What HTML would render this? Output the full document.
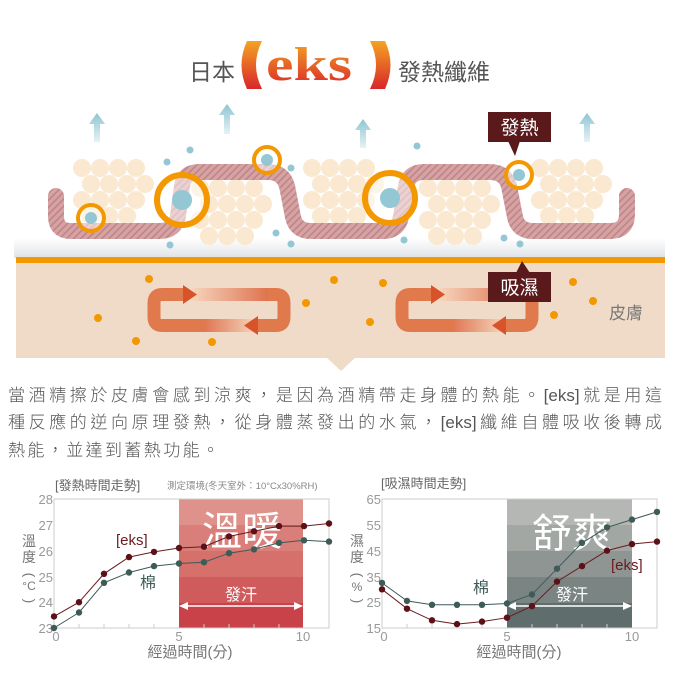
<!DOCTYPE html>
<html><head><meta charset="utf-8"><style>
html,body{margin:0;padding:0;background:#fff;}
body{width:680px;height:680px;overflow:hidden;position:relative;font-family:"Liberation Sans","Noto Sans CJK TC",sans-serif;}
.p{position:absolute;left:8px;width:654px;font-size:17px;color:#555;text-align:justify;text-align-last:justify;white-space:nowrap;font-weight:300;}
</style></head><body>
<svg width="680" height="680" viewBox="0 0 680 680" xmlns="http://www.w3.org/2000/svg" style="position:absolute;left:0;top:0;font-family:'Liberation Sans','Noto Sans CJK TC',sans-serif">
<defs>
<linearGradient id="tg2" gradientUnits="userSpaceOnUse" x1="0" y1="40" x2="0" y2="90"><stop offset="0" stop-color="#f5a623"/><stop offset="1" stop-color="#d8232a"/></linearGradient>
<linearGradient id="ag" x1="0" y1="0" x2="0" y2="1"><stop offset="0" stop-color="#8ec5d3"/><stop offset="1" stop-color="#e6f2f5"/></linearGradient>
<linearGradient id="fog" x1="0" y1="0" x2="0" y2="1"><stop offset="0" stop-color="#fff"/><stop offset="1" stop-color="#dfe3e6"/></linearGradient>
<pattern id="hat" width="5" height="5" patternUnits="userSpaceOnUse" patternTransform="rotate(45)"><rect width="5" height="5" fill="#d6a3a5"/><rect width="1.6" height="5" fill="#c08486"/></pattern>
<linearGradient id="lr" x1="0" y1="0" x2="1" y2="0"><stop offset="0" stop-color="#d9532a"/><stop offset="1" stop-color="#f7d2b8"/></linearGradient>
<linearGradient id="rl" x1="1" y1="0" x2="0" y2="0"><stop offset="0" stop-color="#d9532a"/><stop offset="1" stop-color="#f7d2b8"/></linearGradient>
<g id="b1">
<circle cx="0" cy="0" r="9"/><circle cx="18" cy="0" r="9"/><circle cx="36" cy="0" r="9"/><circle cx="54" cy="0" r="9"/>
<circle cx="9" cy="16" r="9"/><circle cx="27" cy="16" r="9"/><circle cx="45" cy="16" r="9"/><circle cx="63" cy="16" r="9"/>
<circle cx="0" cy="32" r="9"/><circle cx="18" cy="32" r="9"/><circle cx="36" cy="32" r="9"/><circle cx="54" cy="32" r="9"/>
<circle cx="9" cy="48" r="9"/><circle cx="27" cy="48" r="9"/><circle cx="45" cy="48" r="9"/>
</g>
</defs>

<text x="189" y="80" font-size="23" fill="#555">日本</text>
<path d="M262 41 H247 Q236 65 247 89 H262 Q250 65 262 41Z" fill="url(#tg2)"/>
<text x="266" y="80" font-size="48" textLength="86" lengthAdjust="spacingAndGlyphs" fill="url(#tg2)" font-weight="bold" font-family="Liberation Serif,serif">eks</text>
<path d="M370 41 H385 Q396 65 385 89 H370 Q382 65 370 41Z" fill="url(#tg2)"/>
<text x="398" y="80" font-size="23" fill="#555">發熱纖維</text>

<g fill="url(#ag)">
<path d="M97 113 L105 124 L100 124 L100 142 L94 142 L94 124 L89 124Z"/>
<path d="M227 104 L235 115 L230 115 L230 134 L224 134 L224 115 L219 115Z"/>
<path d="M363 119 L371 130 L366 130 L366 148 L360 148 L360 130 L355 130Z"/>
<path d="M587 113 L595 124 L590 124 L590 142 L584 142 L584 124 L579 124Z"/>
</g>

<rect x="14" y="238" width="651" height="20" fill="url(#fog)"/>
<rect x="16" y="263" width="649" height="95" fill="#efdbc8"/>
<polygon points="326,357 356,357 341,371" fill="#efdbc8"/>
<rect x="16" y="257" width="649" height="6" fill="#f39800"/>

<g fill="#fbe8d0">
<use href="#b1" x="82" y="168"/>
<use href="#b1" x="200" y="188"/>
<use href="#b1" x="312" y="168"/>
<use href="#b1" x="428" y="188"/>
<use href="#b1" x="540" y="168"/>
</g>

<path d="M56 196 L56 216 Q56 231 71 231 L160 231 Q175 231 178 216 L182 186 Q184 172 199 172 L268 172 Q283 172 287 186 L293 217 Q296 231 311 231 L383 231 Q398 231 401 217 L406 186 Q409 172 424 172 L490 172 Q505 172 509 186 L515 217 Q518 231 533 231 L610 231 Q627 231 627 214 L627 196" fill="none" stroke="url(#hat)" stroke-width="16" stroke-linecap="round" stroke-linejoin="round"/>

<g>
<circle cx="91" cy="218" r="13" fill="#fff" fill-opacity="0.5" stroke="#f39800" stroke-width="4"/><circle cx="91" cy="218" r="6" fill="#93c7d3"/>
<circle cx="182" cy="200" r="25" fill="#fff" fill-opacity="0.5" stroke="#f39800" stroke-width="6"/><circle cx="182" cy="200" r="10" fill="#93c7d3"/>
<circle cx="267" cy="160" r="13" fill="#fff" fill-opacity="0.5" stroke="#f39800" stroke-width="4"/><circle cx="267" cy="160" r="6" fill="#93c7d3"/>
<circle cx="390" cy="198" r="25" fill="#fff" fill-opacity="0.5" stroke="#f39800" stroke-width="6"/><circle cx="390" cy="198" r="10" fill="#93c7d3"/>
<circle cx="519" cy="175" r="13" fill="#fff" fill-opacity="0.5" stroke="#f39800" stroke-width="4"/><circle cx="519" cy="175" r="6" fill="#93c7d3"/>
</g>
<g fill="#93c7d3">
<circle cx="167" cy="162" r="3.5"/><circle cx="190" cy="150" r="3.5"/><circle cx="291" cy="168" r="3.5"/><circle cx="417" cy="146" r="3.5"/>
<circle cx="276" cy="233" r="3.5"/><circle cx="170" cy="245" r="3.5"/><circle cx="291" cy="244" r="3.5"/><circle cx="404" cy="240" r="3.5"/>
<circle cx="504" cy="238" r="3.5"/><circle cx="520" cy="244" r="3.5"/>
</g>

<g id="circ">
<rect x="192" y="288" width="80" height="13" fill="url(#rl)" opacity="0.8"/>
<rect x="200" y="319" width="56" height="13" fill="url(#lr)" opacity="0.8"/>
<path d="M186 294.5 H162 Q154 294.5 154 303 V317 Q154 325.5 162 325.5 H205" fill="none" stroke="#e07a4c" stroke-width="13"/>
<polygon points="183,285 197,294.5 183,304" fill="#d9532a"/>
<path d="M268 294.5 H276 Q284 294.5 284 303 V317 Q284 325.5 276 325.5 H255" fill="none" stroke="#e07a4c" stroke-width="13"/>
<polygon points="258,316 244,325.5 258,335" fill="#d9532a"/>
</g>
<use href="#circ" x="248" y="0"/>

<rect x="488" y="112" width="63" height="30" fill="#5a1a1c"/>
<polygon points="508,141 520,141 515,156" fill="#5a1a1c"/>
<text x="519.5" y="134" font-size="19" fill="#fff" text-anchor="middle">發熱</text>
<polygon points="516,273 530,273 522,261" fill="#5a1a1c"/>
<rect x="488" y="272" width="63" height="30" fill="#5a1a1c"/>
<text x="519.5" y="294" font-size="19" fill="#fff" text-anchor="middle">吸濕</text>
<text x="609" y="319" font-size="17" fill="#777">皮膚</text>

<g fill="#f39800">
<circle cx="149" cy="279" r="4"/><circle cx="98" cy="318" r="4"/><circle cx="136" cy="341" r="4"/><circle cx="212" cy="342" r="4"/>
<circle cx="306" cy="303" r="4"/><circle cx="334" cy="280" r="4"/><circle cx="383" cy="283" r="4"/><circle cx="370" cy="322" r="4"/>
<circle cx="573" cy="282" r="4"/><circle cx="593" cy="301" r="4"/><circle cx="554" cy="315" r="4"/>
</g>

<text x="55" y="490" font-size="13" fill="#666">[發熱時間走勢]</text>
<text x="167" y="489" font-size="9.5" fill="#888">測定環境(冬天室外：10°Cx30%RH)</text>
<rect x="179" y="499" width="124" height="26" fill="#de928b"/>
<rect x="179" y="525" width="124" height="26" fill="#d97e78"/>
<rect x="179" y="551" width="124" height="26" fill="#d5706b"/>
<rect x="179" y="577" width="124" height="26" fill="#d05b5c"/>
<rect x="179" y="603" width="124" height="25" fill="#c9424a"/>
<rect x="54" y="499" width="275" height="129" fill="none" stroke="#ccc" stroke-width="1"/>
<g stroke="#ccc"><line x1="79" y1="624" x2="79" y2="628"/><line x1="104" y1="624" x2="104" y2="628"/><line x1="129" y1="624" x2="129" y2="628"/><line x1="154" y1="624" x2="154" y2="628"/><line x1="204" y1="624" x2="204" y2="628"/><line x1="229" y1="624" x2="229" y2="628"/><line x1="254" y1="624" x2="254" y2="628"/><line x1="279" y1="624" x2="279" y2="628"/></g>
<text x="242" y="545" font-size="40" fill="#fff" text-anchor="middle">溫暖</text>
<text x="241" y="600" font-size="16" fill="#fff" text-anchor="middle">發汗</text>
<line x1="184" y1="606" x2="298" y2="606" stroke="#fff" stroke-width="1.5"/>
<polygon points="179,606 188,602 188,610" fill="#fff"/><polygon points="303,606 294,602 294,610" fill="#fff"/>
<g font-size="13" fill="#999" text-anchor="end">
<text x="53" y="504">28</text><text x="53" y="530">27</text><text x="53" y="556">26</text><text x="53" y="582">25</text><text x="53" y="607">24</text><text x="53" y="633">23</text>
</g>
<g font-size="13" fill="#999" text-anchor="middle"><text x="56" y="641">0</text><text x="179" y="641">5</text><text x="303" y="641">10</text></g>
<text x="190" y="657" font-size="15" fill="#777" text-anchor="middle">經過時間(分)</text>
<g font-size="14" fill="#777" text-anchor="middle"><text x="29" y="546">溫</text><text x="29" y="562">度</text><text x="29" y="579" transform="rotate(90 29 575)">(</text><text x="29" y="590" font-size="12">°C</text><text x="29" y="605" transform="rotate(90 29 601)">)</text></g>
<text x="116" y="545" font-size="15" fill="#6b1b1f">[eks]</text>
<text x="140" y="588" font-size="16" fill="#3d5c58">棉</text>
<polyline points="54,628 79,612.5 104,582.8 129,572.5 154,566.1 179,563.5 204,562.2 229,553.2 254,549.3 279,542.9 304,540.3 329,541.6" fill="none" stroke="#3d5c58" stroke-width="1"/>
<g fill="#3d5c58"><circle cx="54" cy="628" r="3.2"/><circle cx="79" cy="612.5" r="3.2"/><circle cx="104" cy="582.8" r="3.2"/><circle cx="129" cy="572.5" r="3.2"/><circle cx="154" cy="566.1" r="3.2"/><circle cx="179" cy="563.5" r="3.2"/><circle cx="204" cy="562.2" r="3.2"/><circle cx="229" cy="553.2" r="3.2"/><circle cx="254" cy="549.3" r="3.2"/><circle cx="279" cy="542.9" r="3.2"/><circle cx="304" cy="540.3" r="3.2"/><circle cx="329" cy="541.6" r="3.2"/></g>
<polyline points="54,616.4 79,602.2 104,573.8 129,557.1 154,551.9 179,548 204,546.7 229,536.4 254,531.3 279,526.1 304,526.1 329,523.5" fill="none" stroke="#6b1b1f" stroke-width="1"/>
<g fill="#5c1018"><circle cx="54" cy="616.4" r="3.2"/><circle cx="79" cy="602.2" r="3.2"/><circle cx="104" cy="573.8" r="3.2"/><circle cx="129" cy="557.1" r="3.2"/><circle cx="154" cy="551.9" r="3.2"/><circle cx="179" cy="548" r="3.2"/><circle cx="204" cy="546.7" r="3.2"/><circle cx="229" cy="536.4" r="3.2"/><circle cx="254" cy="531.3" r="3.2"/><circle cx="279" cy="526.1" r="3.2"/><circle cx="304" cy="526.1" r="3.2"/><circle cx="329" cy="523.5" r="3.2"/></g>

<text x="381" y="488" font-size="13" fill="#666">[吸濕時間走勢]</text>
<rect x="507" y="499" width="125" height="26" fill="#b4b7b4"/>
<rect x="507" y="525" width="125" height="26" fill="#a3a7a4"/>
<rect x="507" y="551" width="125" height="26" fill="#8f9592"/>
<rect x="507" y="577" width="125" height="26" fill="#7a8583"/>
<rect x="507" y="603" width="125" height="25" fill="#5f6e6c"/>
<rect x="382" y="499" width="275" height="129" fill="none" stroke="#ccc" stroke-width="1"/>
<g stroke="#ccc"><line x1="407" y1="624" x2="407" y2="628"/><line x1="432" y1="624" x2="432" y2="628"/><line x1="457" y1="624" x2="457" y2="628"/><line x1="482" y1="624" x2="482" y2="628"/><line x1="532" y1="624" x2="532" y2="628"/><line x1="557" y1="624" x2="557" y2="628"/><line x1="582" y1="624" x2="582" y2="628"/><line x1="607" y1="624" x2="607" y2="628"/></g>
<text x="572" y="547" font-size="40" fill="#fff" text-anchor="middle">舒爽</text>
<text x="572" y="600" font-size="16" fill="#fff" text-anchor="middle">發汗</text>
<line x1="512" y1="606" x2="627" y2="606" stroke="#fff" stroke-width="1.5"/>
<polygon points="507,606 516,602 516,610" fill="#fff"/><polygon points="632,606 623,602 623,610" fill="#fff"/>
<g font-size="13" fill="#999" text-anchor="end">
<text x="381" y="504">65</text><text x="381" y="530">55</text><text x="381" y="556">45</text><text x="381" y="582">35</text><text x="381" y="607">25</text><text x="381" y="633">15</text>
</g>
<g font-size="13" fill="#999" text-anchor="middle"><text x="384" y="641">0</text><text x="507" y="641">5</text><text x="632" y="641">10</text></g>
<text x="519" y="657" font-size="15" fill="#777" text-anchor="middle">經過時間(分)</text>
<g font-size="14" fill="#777" text-anchor="middle"><text x="357" y="546">濕</text><text x="357" y="562">度</text><text x="357" y="579" transform="rotate(90 357 575)">(</text><text x="357" y="591" font-size="12">%</text><text x="357" y="605" transform="rotate(90 357 601)">)</text></g>
<text x="611" y="570" font-size="15" fill="#6b1b1f">[eks]</text>
<text x="473" y="593" font-size="16" fill="#3d5c58">棉</text>
<polyline points="382,582.9 407,600.9 432,604.8 457,604.8 482,604.8 507,603.5 532,594.5 557,568.7 582,542.9 607,527.4 632,519.6 657,511.9" fill="none" stroke="#3d5c58" stroke-width="1"/>
<g fill="#3d5c58"><circle cx="382" cy="582.9" r="3.2"/><circle cx="407" cy="600.9" r="3.2"/><circle cx="432" cy="604.8" r="3.2"/><circle cx="457" cy="604.8" r="3.2"/><circle cx="482" cy="604.8" r="3.2"/><circle cx="507" cy="603.5" r="3.2"/><circle cx="532" cy="594.5" r="3.2"/><circle cx="557" cy="568.7" r="3.2"/><circle cx="582" cy="542.9" r="3.2"/><circle cx="607" cy="527.4" r="3.2"/><circle cx="632" cy="519.6" r="3.2"/><circle cx="657" cy="511.9" r="3.2"/></g>
<polyline points="382,589.3 407,608.7 432,620.3 457,624.1 482,621.6 507,617.7 532,606.1 557,581.6 582,566.1 607,550.6 632,544.1 657,541.6" fill="none" stroke="#6b1b1f" stroke-width="1"/>
<g fill="#5c1018"><circle cx="382" cy="589.3" r="3.2"/><circle cx="407" cy="608.7" r="3.2"/><circle cx="432" cy="620.3" r="3.2"/><circle cx="457" cy="624.1" r="3.2"/><circle cx="482" cy="621.6" r="3.2"/><circle cx="507" cy="617.7" r="3.2"/><circle cx="532" cy="606.1" r="3.2"/><circle cx="557" cy="581.6" r="3.2"/><circle cx="582" cy="566.1" r="3.2"/><circle cx="607" cy="550.6" r="3.2"/><circle cx="632" cy="544.1" r="3.2"/><circle cx="657" cy="541.6" r="3.2"/></g>
</svg>

<div class="p" style="top:381px">當酒精擦於皮膚會感到涼爽，是因為酒精帶走身體的熱能。[eks]就是用這</div>
<div class="p" style="top:408px">種反應的逆向原理發熱，從身體蒸發出的水氣，[eks]纖維自體吸收後轉成</div>
<div class="p" style="top:436px;text-align-last:left;letter-spacing:2.4px">熱能，並達到蓄熱功能。</div>
</body></html>
